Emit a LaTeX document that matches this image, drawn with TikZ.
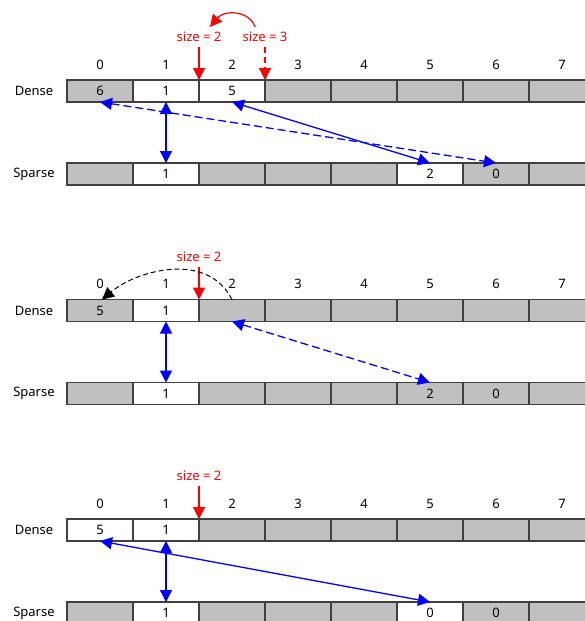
\documentclass[tikz,border=0pt]{standalone}
\usepackage{fontspec}
\setmainfont{Noto Sans}
\usetikzlibrary{arrows.meta}
\definecolor{cellgray}{HTML}{C0C0C0}
\definecolor{cellline}{HTML}{404040}
\tikzset{
  x=1pt, y=-1pt,
  txt/.style={font=\fontsize{13}{15}\selectfont, inner sep=2pt},
  cell/.style={txt, draw=cellline, line width=1.3pt, minimum width=66pt,
    minimum height=22pt, inner sep=0pt, outer sep=0pt},
  full/.style={cell, fill=cellgray},
  empty/.style={cell, fill=white},
  sizelbl/.style={txt, text=red, inner sep=5pt},
  sizearrow/.style={red, line width=1.2pt, -{Triangle[length=12pt, width=12pt]}},
  link/.style={blue, line width=1.3pt,
    {Triangle[length=12pt, width=12pt]}-{Triangle[length=12pt, width=12pt]}},
  linkdash/.style={link, dash pattern=on 8pt off 4pt},
}
\begin{document}
\begin{tikzpicture}
\useasboundingbox (0,0) rectangle (585,621);
\clip (0,0) rectangle (585,621);

% ---------- first state: size 3 -> 2 ----------
\foreach \i in {0,...,7}
  \node[txt] (p1i\i) at ({100+66*\i}, 64.5) {\i};
\node[txt] (p1dl) at (34, 91) {Dense};
\node[txt] (p1sl) at (34, 174) {Sparse};
\foreach \i/\st/\v in {0/full/6, 1/empty/1, 2/empty/5, 3/full/{}, 4/full/{},
                       5/full/{}, 6/full/{}, 7/full/{}}
  \node[\st] (p1d\i) at ({100+66*\i}, 91) {\v};
\foreach \i/\st/\v in {0/full/{}, 1/empty/1, 2/full/{}, 3/full/{}, 4/full/{},
                       5/empty/2, 6/full/0, 7/full/{}}
  \node[\st] (p1s\i) at ({100+66*\i}, 174) {\v};
\node[sizelbl] (p1sa) at (199, 37) {size = 2};
\node[sizelbl] (p1sb) at (265, 37) {size = 3};
\draw[sizearrow] (p1sa.south) -- (p1d2.north west);
\draw[sizearrow, dash pattern=on 6pt off 4pt] (p1sb.south) -- (p1d3.north west);
\draw[sizearrow] ([xshift=-10pt]p1sb.north)
  .. controls +(-6,-17) and +(14,-17) .. ([xshift=11pt]p1sa.north);
\draw[link] (p1d1.south) -- (p1s1.north);
\draw[link] (p1d2.south) -- (p1s5.north);
\draw[linkdash] (p1d0.south) -- (p1s6.north);

% ---------- second state: move last element ----------
\foreach \i in {0,...,7}
  \node[txt] (p2i\i) at ({100+66*\i}, 284) {\i};
\node[txt] (p2dl) at (34, 310.5) {Dense};
\node[txt] (p2sl) at (34, 393.5) {Sparse};
\foreach \i/\st/\v in {0/full/5, 1/empty/1, 2/full/{}, 3/full/{}, 4/full/{},
                       5/full/{}, 6/full/{}, 7/full/{}}
  \node[\st] (p2d\i) at ({100+66*\i}, 310.5) {\v};
\foreach \i/\st/\v in {0/full/{}, 1/empty/1, 2/full/{}, 3/full/{}, 4/full/{},
                       5/full/2, 6/full/0, 7/full/{}}
  \node[\st] (p2s\i) at ({100+66*\i}, 393.5) {\v};
\node[sizelbl] (p2sa) at (199, 256.5) {size = 2};
\draw[sizearrow] (p2sa.south) -- (p2d2.north west);
\draw[black, line width=1pt, dash pattern=on 5pt off 3pt,
      -{Triangle[length=12pt, width=12pt]}]
  (p2d2.north) .. controls +(-24,-48) and +(36,-30) .. ([xshift=2pt]p2d0.north);
\draw[link] (p2d1.south) -- (p2s1.north);
\draw[linkdash] (p2d2.south) -- (p2s5.north);

% ---------- third state: final layout ----------
\foreach \i in {0,...,7}
  \node[txt] (p3i\i) at ({100+66*\i}, 503.5) {\i};
\node[txt] (p3dl) at (34, 530) {Dense};
\node[txt] (p3sl) at (34, 613) {Sparse};
\foreach \i/\st/\v in {0/empty/5, 1/empty/1, 2/full/{}, 3/full/{}, 4/full/{},
                       5/full/{}, 6/full/{}, 7/full/{}}
  \node[\st] (p3d\i) at ({100+66*\i}, 530) {\v};
\foreach \i/\st/\v in {0/full/{}, 1/empty/1, 2/full/{}, 3/full/{}, 4/full/{},
                       5/empty/0, 6/full/0, 7/full/{}}
  \node[\st] (p3s\i) at ({100+66*\i}, 613) {\v};
\node[sizelbl] (p3sa) at (199, 476) {size = 2};
\draw[sizearrow] (p3sa.south) -- (p3d2.north west);
\draw[link] (p3d1.south) -- (p3s1.north);
\draw[link] (p3d0.south) -- (p3s5.north);
\end{tikzpicture}
\end{document}
